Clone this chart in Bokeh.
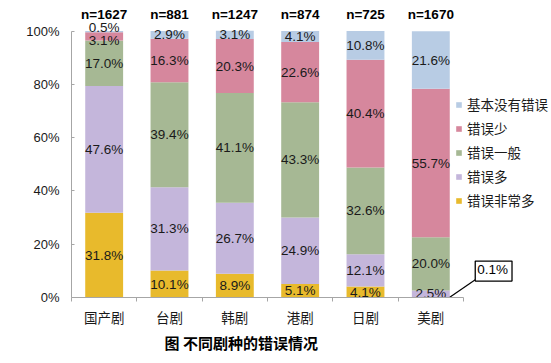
from bokeh.plotting import figure
from bokeh.models import (ColumnDataSource, FixedTicker, Legend, LegendItem, Range1d, Title)
from bokeh.core.properties import value
from bokeh.embed import file_html
from bokeh.resources import INLINE

categories = ["国产剧", "台剧", "韩剧", "港剧", "日剧", "美剧"]
sample_sizes = ["n=1627", "n=881", "n=1247", "n=874", "n=725", "n=1670"]
series_names = ["错误非常多", "错误多", "错误一般", "错误少", "基本没有错误"]
very_many = [31.8, 10.1, 8.9, 5.1, 4.1, 0.1]
many = [47.6, 31.3, 26.7, 24.9, 12.1, 2.5]
average = [17.0, 39.4, 41.1, 43.3, 32.6, 20.0]
few = [3.1, 16.3, 20.3, 22.6, 40.4, 55.7]
almost_none = [0.5, 2.9, 3.1, 4.1, 10.8, 21.6]
y_ticks = [0, 20, 40, 60, 80, 100]
y_tick_labels = ["0%", "20%", "40%", "60%", "80%", "100%"]
title_text = "图 不同剧种的错误情况"

colors = ["#E8BA2C", "#C4B6DB", "#A6B894", "#D6879D", "#B8CCE4"]
series = [very_many, many, average, few, almost_none]
keys = ["s0", "s1", "s2", "s3", "s4"]

W, H = 551, 363
left_b, bottom_b = 71, 66
px_per_cat = 65.33
px_per_pct = 2.665
frame_w = W - left_b
frame_h = H - bottom_b

xs = list(range(len(categories)))
data = {"x": xs}
for k, s in zip(keys, series):
    data[k] = s
src = ColumnDataSource(data)

p = figure(width=W, height=H, output_backend="svg", toolbar_location=None,
           x_range=Range1d(-0.5, -0.5 + frame_w / px_per_cat),
           y_range=Range1d(0, frame_h / px_per_pct),
           min_border_left=left_b, min_border_right=0, min_border_top=0,
           min_border_bottom=bottom_b)
p.outline_line_color = None
p.grid.visible = False
p.background_fill_color = "white"

bar_w = 0.58
rs = p.vbar_stack(keys, x="x", width=bar_w, source=src, color=colors, line_color=None)

# Data labels
FONT = "Liberation Sans"
CJK = "Noto Sans CJK SC"
lx, ly, lt, lo = [], [], [], []
for i in xs:
    base = 0.0
    for j, s in enumerate(series):
        v = s[i]
        if not (i == 5 and j == 0):
            lx.append(i)
            ly.append(base + v / 2)
            lt.append(f"{v:.1f}%")
            off = 0
            if i == 0 and j == 4:
                off = -4
            if i == 0 and j == 3:
                off = 4
            lo.append(off)
        base += v
p.text(x=lx, y=ly, text=lt, y_offset=lo, text_align="center", text_baseline="middle",
       text_font=value(FONT), text_font_size="13.5px", text_color="#1a1a1a")

# n= labels
p.text(x=xs, y=[100] * len(xs), text=sample_sizes, y_offset=-17, text_align="center",
       text_baseline="middle", text_font=value(FONT), text_font_size="13.5px",
       text_font_style="bold", text_color="black")

# Callout for 0.1%
cx = 5 + bar_w / 2
cy = very_many[5]
p.segment(x0=[cx], y0=[cy], x1=[cx + 0.39], y1=[cy + 6.6], line_color="black", line_width=1.2)
p.text(x=[cx + 0.39], y=[cy + 9.8], text=[f"{very_many[5]:.1f}%"], text_align="left",
       text_baseline="middle", text_font=value(FONT), text_font_size="13.5px",
       text_color="black", border_line_color="black", border_line_width=1.3,
       background_fill_color="white", padding=[2, 4, 1, 4])

# Axes
ya = p.yaxis[0]
ya.ticker = FixedTicker(ticks=y_ticks)
ya.major_label_overrides = {t: l for t, l in zip(y_ticks, y_tick_labels)}
ya.bounds = (0, 100)
ya.axis_line_color = "#A6A6A6"
ya.major_tick_line_color = "#A6A6A6"
ya.major_tick_in = 3
ya.major_tick_out = 0
ya.minor_tick_line_color = None
ya.major_label_standoff = 12
ya.major_label_text_font = FONT
ya.major_label_text_font_size = "13px"
ya.major_label_text_color = "#1a1a1a"

xa = p.xaxis[0]
xa.ticker = FixedTicker(ticks=xs, minor_ticks=[i - 0.5 for i in range(len(xs) + 1)])
xa.major_label_overrides = {i: c for i, c in enumerate(categories)}
xa.bounds = (-0.5, len(xs) - 0.5)
xa.axis_line_color = "#A6A6A6"
xa.major_tick_line_color = None
xa.major_tick_in = 0
xa.major_tick_out = 0
xa.minor_tick_line_color = "#A6A6A6"
xa.minor_tick_in = 0
xa.minor_tick_out = 4
xa.major_label_standoff = 5
xa.major_label_text_font = CJK
xa.major_label_text_font_size = "13.5px"
xa.major_label_text_color = "#1a1a1a"

t = Title(text=title_text, align="left", offset=93, text_font=CJK, text_font_size="15px",
          text_font_style="bold", text_color="black", standoff=0)
p.add_layout(t, "below")

# Legend
items = [LegendItem(label=series_names[j], renderers=[rs[j]]) for j in range(4, -1, -1)]
legend = Legend(items=items, location=(384, 87), glyph_width=7, glyph_height=7,
                label_height=20, spacing=4, label_standoff=5, padding=0, margin=0,
                border_line_color=None, background_fill_alpha=0,
                label_text_font=CJK, label_text_font_size="13.5px", label_text_color="#1a1a1a")
p.add_layout(legend, "center")

open("out.html", "w").write(file_html(p, INLINE))
